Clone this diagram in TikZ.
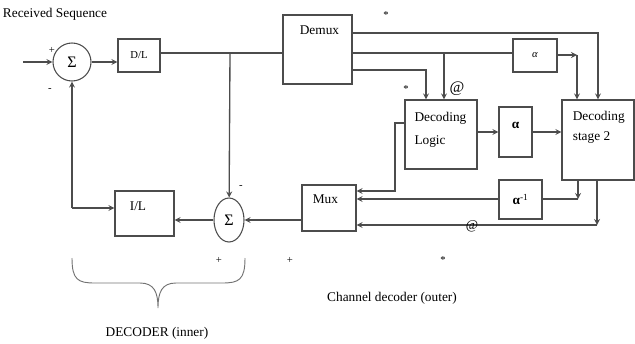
\documentclass[tikz,border=0pt]{standalone}
\usepackage{fontspec}
\setmainfont{Liberation Serif}
\usepackage{tikz}
\usetikzlibrary{shapes.geometric, arrows}

\begin{document}
\begin{tikzpicture}[
    x=0.75pt, y=-0.75pt,
    every node/.style={font=\normalsize},
    box/.style={rectangle, draw=black!70, line width=0.8pt, inner sep=0pt, align=center},
    adder/.style={circle, draw=black!70, line width=0.8pt, inner sep=0pt, minimum size=28.5pt, font=\large},
    wire/.style={draw=black!70, line width=1pt},
    arrow/.style={->, >=stealth, wire},
    sign/.style={font=\footnotesize, inner sep=1pt}
]
\useasboundingbox (0,0) rectangle (635,343);
\node (sum1) [adder] at (72,62) {Σ};
\node (dl) [box, minimum width=31.5pt, minimum height=24.75pt, font=\footnotesize] at (139,55.5) {D/L};
\node (demux) [box, minimum width=51.75pt, minimum height=51.75pt, label={[anchor=north west, xshift=9.5pt, yshift=-5pt]north west:Demux}] at (317.5,49.5) {};
\node (alphaa) [box, minimum width=33pt, minimum height=24.75pt, font=\footnotesize\itshape] at (535,55.5) {α};
\node (logic) [box, minimum width=54pt, minimum height=51.75pt, label={[anchor=north west, align=left, xshift=4pt, yshift=-6pt]north west:{Decoding\\[5pt]Logic}}] at (441,134.5) {};
\node (alphab) [box, minimum width=24.75pt, minimum height=37.5pt, label={[yshift=5pt, font=\bfseries]center:α}] at (515.5,132) {};
\node (stage) [box, minimum width=54pt, minimum height=60pt, label={[anchor=north west, align=left, xshift=5pt, yshift=-5pt]north west:{Decoding\\[3pt]stage 2}}] at (598,140) {};
\node (alphac) [box, minimum width=32.25pt, minimum height=29.25pt] at (520.5,199.5) {\textbf{α}\textsuperscript{-1}};
\node (mux) [box, minimum width=40.5pt, minimum height=34.5pt, label={[anchor=north west, xshift=5pt, yshift=-4pt]north west:Mux}] at (329,208) {};
\node (sum2) [adder, ellipse, minimum width=22.5pt, minimum height=33pt] at (229,220) {Σ};
\node (il) [box, minimum width=44.25pt, minimum height=33.75pt, label={[anchor=north west, xshift=8pt, yshift=-5pt]north west:I/L}] at (144.5,213.5) {};
% corners of the connectors
\coordinate (in) at (23,62);
\coordinate (ja) at (230,53);
\coordinate (jt) at (598,33);
\coordinate (jm) at (444,53);
\coordinate (jl) at (426,70);
\coordinate (jc) at (577,55);
\coordinate (jf) at (395,123);
\coordinate (jg) at (395,191);
\coordinate (jr) at (578,199);
\coordinate (jb) at (597,225);
\coordinate (jq) at (72,208);
\draw [arrow] (in) -- (sum1); \draw [arrow] (sum1) -- (dl.west |- sum1);
\draw [wire] (dl.east |- ja) -- (demux.west |- ja);
\draw [arrow] (ja) -- (sum2);
\draw [arrow] (demux.east |- jt) -| (stage.north -| jt);
\draw [wire] (demux.east |- jm) -- (alphaa.west |- jm);
\draw [arrow] (jm) -- (logic.north -| jm);
\draw [arrow] (demux.east |- jl) -| (logic.north -| jl);
\draw [arrow] (alphaa.east |- jc) -- (jc); \draw [arrow] (jc) -- (stage.north -| jc);
\draw [arrow] (logic.east |- alphab) -- (alphab.west);
\draw [arrow] (alphab.east) -- (stage.west |- alphab);
\draw [arrow] (logic.west |- jf) -- (jf) -- (jg) -- (mux.east |- jg);
\draw [arrow] (stage.south -| jr) -- (jr); \draw [wire] (jr) -- (alphac.east |- jr);
\draw [arrow] (alphac.west |- jr) -- (mux.east |- jr);
\draw [arrow] (stage.south -| jb) -- (jb);
\draw [arrow] (jb) -- node[pos=0.52, inner sep=1pt, yshift=-1pt] {@} (mux.east |- jb);
\draw [arrow] (mux.west |- sum2) -- (sum2); \draw [arrow] (sum2) -- (il.east |- sum2);
\draw [arrow] (jq) -- (il.west |- jq); \draw [arrow] (jq) -- (sum1);
% signs and marks
\node (plusa) [sign] at (52,50) {+};
\node (minusa) [sign] at (50,90) {-};
\node (minusb) [sign] at (241,187) {-};
\node (plusb) [sign] at (219,260) {+};
\node (plusc) [sign] at (290,260) {+};
\node (stara) [sign] at (386,15) {*};
\node (starb) [sign] at (406,89) {*};
\node (atop) [font=\large] at (457,89) {@};
\node (starc) [sign] at (443,260) {*};
% captions
\node (title) at (55,14) {Received Sequence};
\node (outer) at (392,298) {Channel decoder (outer)};
\node (inner) at (157,333) {DECODER (inner)};
\draw [draw=black!55, line width=0.7pt] (72,258) .. controls (72,280) and (78,283) .. (95,283) -- (140,283) .. controls (154,283) and (158,292) .. (158,308) .. controls (158,292) and (162,283) .. (176,283) -- (222,283) .. controls (239,283) and (245,280) .. (245,258);
\end{tikzpicture}
\end{document}
